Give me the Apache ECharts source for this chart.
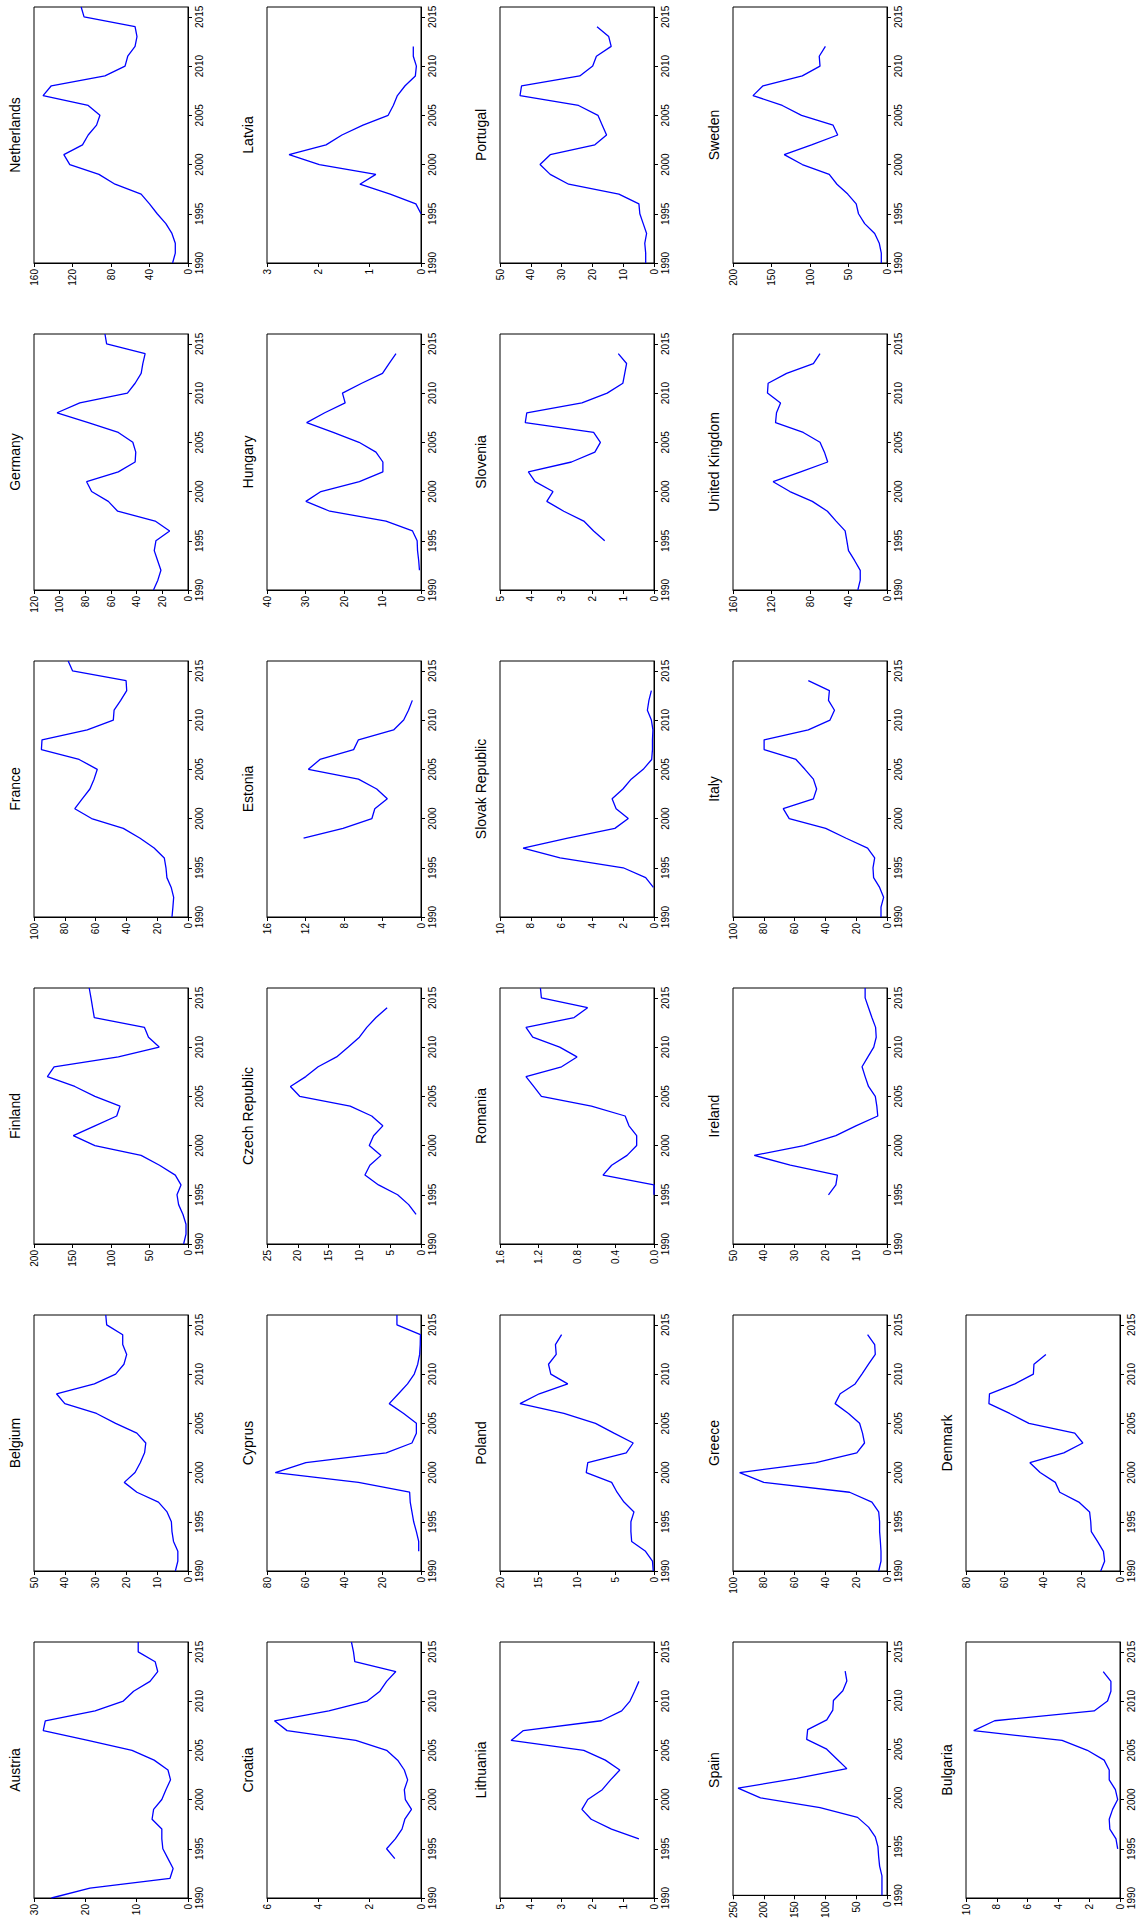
<!DOCTYPE html>
<html>
<head>
<meta charset="utf-8">
<script src="https://cdn.jsdelivr.net/npm/echarts@6/dist/echarts.min.js"></script>
<style>
  html, body { margin: 0; padding: 0; background: #fff; }
  #chart { width: 1140px; height: 1921px; }
</style>
</head>
<body>
<div id="chart"></div>
<script>
// ---- Data (years 1990..2016; each series starts at its own first year) ----
const yearTicks = [1990, 1995, 2000, 2005, 2010, 2015];

const countries = [
  'Austria', 'Belgium', 'Finland', 'France', 'Germany', 'Netherlands',
  'Croatia', 'Cyprus', 'Czech Republic', 'Estonia', 'Hungary', 'Latvia',
  'Lithuania', 'Poland', 'Romania', 'Slovak Republic', 'Slovenia', 'Portugal',
  'Spain', 'Greece', 'Ireland', 'Italy', 'United Kingdom', 'Sweden',
  'Bulgaria', 'Denmark'
];
const firstYear = [
  1990, 1990, 1990, 1990, 1990, 1990,
  1994, 1992, 1993, 1998, 1992, 1995,
  1996, 1990, 1995, 1993, 1995, 1990,
  1990, 1990, 1995, 1990, 1990, 1990,
  1995, 1990
];
const axisMax = [
  30, 50, 200, 100, 120, 160,
  6, 80, 25, 16, 40, 3,
  5, 20, 1.6, 10, 5, 50,
  250, 100, 50, 100, 160, 200,
  10, 80
];
const axisStep = [
  10, 10, 50, 20, 20, 40,
  2, 20, 5, 4, 10, 1,
  1, 5, 0.4, 2, 1, 10,
  50, 20, 10, 20, 40, 50,
  2, 20
];

const austria = [26.6, 19.1, 3.5, 2.9, 3.9, 4.9, 5.1, 5.1, 7.0, 6.7, 5.1, 4.3, 3.4, 3.9, 6.6, 10.9, 19.5, 28.2, 27.8, 18.1, 12.6, 10.6, 7.4, 5.9, 6.4, 9.7, 9.7];
const belgium = [4.1, 3.3, 3.3, 4.7, 5.2, 5.4, 6.8, 9.6, 16.6, 20.7, 17.2, 15.5, 14.1, 13.7, 16.6, 23.5, 29.7, 40.0, 42.7, 30.4, 23.5, 20.8, 19.9, 21.2, 21.2, 26.4, 26.7];
const finland = [5.7, 2.6, 2.6, 6.5, 12.2, 14.3, 9.1, 16.5, 37, 60.9, 120.9, 149, 120.9, 92.6, 88.3, 120.9, 147, 182.6, 173.9, 90.4, 37.4, 51.3, 56.5, 121.7, 123.9, 126, 128.3];
const france = [10.4, 9.8, 9.3, 10.9, 13.7, 14.3, 15.4, 22, 31.1, 42, 62.6, 73.5, 68.7, 63.7, 61, 58.9, 70.7, 95.2, 94.8, 65.4, 48.5, 48, 43.7, 39.8, 40.2, 75, 77.8];
const germany = [26.9, 23.5, 21.1, 23.7, 26.3, 25, 14.3, 25.6, 54.8, 62.1, 75.1, 79, 54.3, 41.2, 40.7, 43, 54.3, 77.7, 102, 84.3, 47.2, 41.2, 36.5, 35.2, 33.4, 63.4, 64.7];
const netherlands = [16, 13.2, 13.2, 16.7, 23, 32, 40, 48.7, 75.8, 92.5, 122.8, 129, 109.6, 103.7, 95, 91.5, 103.7, 150.6, 142, 86.3, 65.4, 62.6, 55, 53, 55, 108, 111];
const croatia = [1.02, 1.34, 1.0, 0.74, 0.63, 0.37, 0.61, 0.65, 0.52, 0.65, 0.91, 1.34, 2.54, 5.22, 5.71, 3.59, 2.09, 1.6, 1.34, 0.98, 2.58, 2.63, 2.71];
const cyprus = [1.2, 1.2, 2.4, 3.8, 4.7, 5.6, 5.9, 32.5, 75.7, 59.8, 18.1, 4.7, 2.4, 2.4, 9, 16.5, 11.7, 7, 3.5, 1.7, 0.7, 0.4, 0.3, 12.5, 12.5];
const czech = [0.8, 2.0, 3.8, 6.9, 9.1, 8.3, 6.5, 8.4, 7.7, 6.2, 8.0, 11.5, 19.7, 21.2, 18.7, 16.7, 13.7, 11.8, 10, 8.8, 7.3, 5.5];
const estonia = [12.2, 8.1, 5.1, 4.8, 3.5, 4.6, 6.5, 11.7, 10.5, 7.0, 6.5, 2.85, 1.8, 1.3, 0.9];
const hungary = [0.4, 0.6, 0.9, 1.0, 2.2, 9.1, 23.7, 29.9, 26, 16, 9.9, 9.9, 11.7, 16.1, 22.8, 29.7, 25, 19.7, 20.4, 15.4, 10, 8.3, 6.5];
const latvia = [0.0, 0.1, 0.6, 1.19, 0.88, 1.98, 2.57, 1.85, 1.54, 1.13, 0.64, 0.54, 0.46, 0.31, 0.11, 0.09, 0.15, 0.15];
const lithuania = [0.49, 1.38, 2.04, 2.34, 2.15, 1.68, 1.41, 1.11, 1.58, 2.28, 4.64, 4.24, 1.71, 1.05, 0.78, 0.63, 0.49];
const poland = [0.1, 0.2, 1.1, 2.9, 3.0, 3.0, 2.6, 3.9, 4.8, 5.5, 8.8, 8.6, 3.6, 2.7, 5.2, 7.6, 11.7, 17.4, 14.9, 11.2, 13.4, 13.7, 12.7, 12.8, 12.0];
const romania = [0.0, 0.0, 0.53, 0.44, 0.28, 0.18, 0.18, 0.26, 0.30, 0.65, 1.17, 1.25, 1.33, 0.96, 0.80, 0.98, 1.26, 1.33, 0.83, 0.69, 1.17, 1.18];
const slovakia = [0.04, 0.54, 2.0, 6.1, 8.5, 5.6, 2.54, 1.67, 2.46, 2.72, 2.02, 1.48, 0.7, 0.15, 0.1, 0.1, 0.07, 0.17, 0.43, 0.33, 0.17];
const slovenia = [1.6, 1.96, 2.28, 2.93, 3.48, 3.28, 3.86, 4.08, 2.68, 1.92, 1.74, 1.96, 4.18, 4.13, 2.34, 1.52, 1.01, 0.95, 0.89, 1.16];
const portugal = [2.7, 2.7, 3.0, 2.4, 3.5, 4.6, 4.9, 11.4, 27.7, 33.7, 37, 33.7, 19.2, 15.4, 16.8, 18.2, 24.5, 43.5, 43, 24.1, 19.9, 18.7, 13.9, 14.7, 18.5];
const spain = [8.2, 8.2, 8.2, 12, 13.6, 14.7, 19, 29.9, 47.8, 108.7, 205.4, 241.8, 146.7, 65.2, 81.5, 97.8, 130.4, 128.8, 97.8, 88, 87, 71.7, 65.2, 67.9];
const greece = [5.4, 3.9, 3.9, 4.3, 4.8, 4.8, 5.4, 9.8, 24.3, 80, 95.7, 46.1, 19.6, 14.6, 15.9, 17.8, 25, 33.7, 30.4, 20.7, 16.3, 12, 7.6, 8, 12.6];
const ireland = [19, 16.6, 16.1, 31.4, 43.1, 27, 16.6, 10.1, 3, 3.3, 3.8, 6, 7.1, 8.1, 6.2, 4.3, 3.5, 3.7, 4.9, 6, 7.1, 7.1];
const italy = [3.9, 3.9, 2.2, 4.8, 8.7, 9.1, 8, 12.6, 26.5, 39.8, 63.5, 67.4, 47.8, 45.7, 47.8, 53.3, 59.1, 79.8, 79.8, 51.1, 37, 34.1, 38, 37.4, 51.1];
const unitedKingdom = [30.3, 27.8, 27.8, 33.7, 40, 41.7, 43.5, 52.9, 61.9, 77.6, 100.9, 118.3, 89.7, 61.6, 65, 69.6, 87, 115.8, 114.8, 110.6, 124.2, 123.5, 104.3, 76.5, 69.6];
const sweden = [7.4, 7.4, 10, 16, 29, 37, 40, 51, 65, 75, 110, 133.5, 98, 64, 70, 111, 136, 174, 161, 110, 87, 88, 80];
const bulgaria = [0.15, 0.26, 0.66, 0.7, 0.48, 0.15, 0.3, 0.7, 0.7, 1.03, 2.12, 3.76, 9.5, 8.14, 1.68, 0.81, 0.59, 0.59, 1.09];
const denmark = [10, 8, 8.6, 11.7, 14.9, 15.2, 15.8, 21.4, 31.3, 33.6, 41.5, 46.8, 29.2, 19.3, 23.5, 47.3, 57.3, 68.1, 67.8, 54.6, 45, 44.7, 38.5];

const seriesValues = [
  austria, belgium, finland, france, germany, netherlands,
  croatia, cyprus, czech, estonia, hungary, latvia,
  lithuania, poland, romania, slovakia, slovenia, portugal,
  spain, greece, ireland, italy, unitedKingdom, sweden,
  bulgaria, denmark
];

// ---- Layout (figure is rotated 90 degrees counter-clockwise) ----
const colLeft = [34, 267, 500, 733, 966];
const rowTop = [7, 334, 661, 988, 1315, 1642];
const panelW = 154, panelH = 256;
const FONT = "'Liberation Sans', Arial, Helvetica, sans-serif";

const grids = [], xAxes = [], yAxes = [], series = [], titles = [];

countries.forEach(function (name, k) {
  const col = Math.floor(k / 6);
  const row = 5 - (k % 6);
  const left = colLeft[col], top = rowTop[row];
  const step = axisStep[k];
  const dec = Number.isInteger(step) ? 0 : 1;

  grids.push({
    left: left, top: top, width: panelW, height: panelH,
    show: true, borderColor: '#000', borderWidth: 1, backgroundColor: 'transparent'
  });

  xAxes.push({
    type: 'value', gridIndex: k, min: 0, max: axisMax[k], interval: step,
    inverse: true, position: 'bottom',
    axisLine: { show: true, onZero: false, lineStyle: { color: '#000', width: 1 } },
    axisTick: { show: true, length: 4, lineStyle: { color: '#000', width: 1 } },
    axisLabel: {
      rotate: 90, fontSize: 10, color: '#000', margin: 6, fontFamily: FONT,
      formatter: function (v) { return dec ? v.toFixed(dec) : String(Math.round(v)); }
    },
    splitLine: { show: false }
  });

  yAxes.push({
    type: 'value', gridIndex: k, min: 1990, max: 2016, position: 'right',
    axisLine: { show: true, onZero: false, lineStyle: { color: '#000', width: 1 } },
    axisTick: { show: true, length: 4, customValues: yearTicks, lineStyle: { color: '#000', width: 1 } },
    axisLabel: {
      rotate: 90, fontSize: 10, color: '#000', margin: 6, fontFamily: FONT,
      customValues: yearTicks,
      formatter: function (v) { return String(v); }
    },
    splitLine: { show: false }
  });

  const vals = seriesValues[k];
  const data = vals.map(function (v, i) { return [v, firstYear[k] + i]; });
  series.push({
    type: 'line', xAxisIndex: k, yAxisIndex: k, data: data,
    showSymbol: false, symbol: 'none', smooth: false,
    lineStyle: { color: '#0000ff', width: 1.3 },
    itemStyle: { color: '#0000ff' },
    silent: true, animation: false
  });

  titles.push({
    type: 'text',
    x: left - 19, y: top + panelH / 2,
    rotation: Math.PI / 2,
    silent: true,
    style: {
      text: name, fill: '#000', fontSize: 14, fontFamily: FONT,
      align: 'center', verticalAlign: 'middle'
    }
  });
});

const chart = echarts.init(document.getElementById('chart'), null, { renderer: 'svg', width: 1140, height: 1921 });
chart.setOption({
  backgroundColor: '#ffffff',
  animation: false,
  grid: grids,
  xAxis: xAxes,
  yAxis: yAxes,
  series: series,
  graphic: { elements: titles }
});
</script>
</body>
</html>
